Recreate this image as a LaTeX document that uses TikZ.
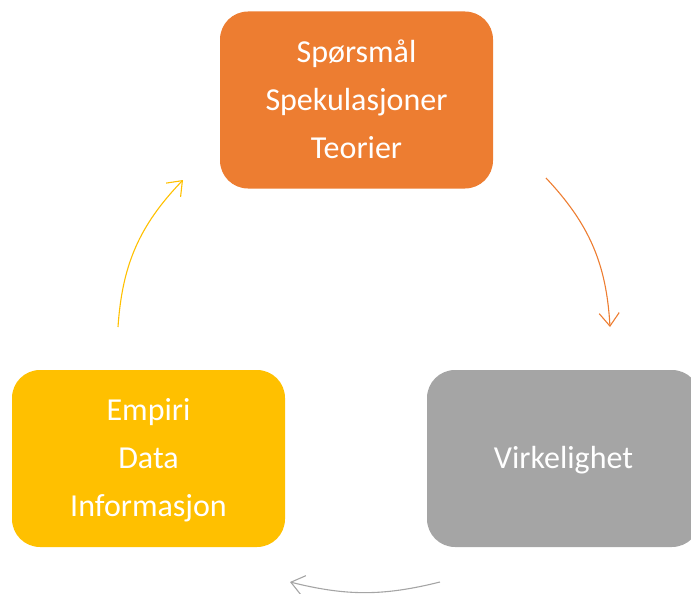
\documentclass[tikz,border=0pt]{standalone}
\usepackage{fontspec}
\setmainfont{Carlito}
\usetikzlibrary{arrows.meta}
\definecolor{orng}{HTML}{ED7D31}
\definecolor{yel}{HTML}{FFC000}
\definecolor{gry}{HTML}{A5A5A5}
\begin{document}
\begin{tikzpicture}[x=1pt,y=-1pt,
  box/.style={rounded corners=28pt, minimum width=273pt, minimum height=177pt, inner sep=0pt,
    fill=#1, draw=none},
  lbl/.style={text=white, align=center, font=\fontsize{32}{48}\selectfont, inner sep=0pt},
  cyc/.style={line width=1.1pt, -{Straight Barb[length=13pt,width=20pt,line width=1.1pt]}}]
\useasboundingbox (0,0) rectangle (691,594);
\node[box=orng] (q) at (356.5,100) {};
\node[box=gry] (v) at (563.5,458.5) {};
\node[box=yel] (e) at (148.5,458.5) {};
\node[lbl, anchor=base] (qt) at (356.5,158) {Spørsmål\\Spekulasjoner\\Teorier};
\node[lbl, anchor=base] (vt) at (563.5,468) {Virkelighet};
\node[lbl, anchor=base] (et) at (148.5,516) {Empiri\\Data\\Informasjon};
\coordinate (a1) at (546,178);
\coordinate (a2) at (610,327);
\coordinate (b1) at (440,582);
\coordinate (b2) at (290,582);
\coordinate (c1) at (118,327);
\coordinate (c2) at (183,180);
\draw[cyc, orng] (a1) to[bend left=20] (a2);
\draw[cyc, gry] (b1) to[bend left=14] (b2);
\draw[cyc, yel] (c1) to[bend left=20] (c2);
\end{tikzpicture}
\end{document}
